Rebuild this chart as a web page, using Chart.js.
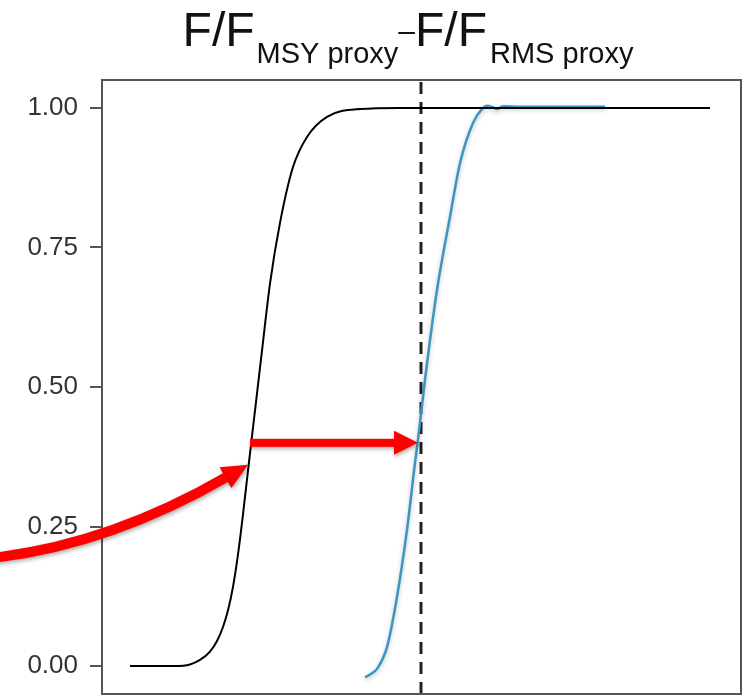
<!DOCTYPE html>
<html>
<head>
<meta charset="utf-8">
<script src="https://cdn.jsdelivr.net/npm/chart.js@4.4.0/dist/chart.umd.min.js"></script>
<style>
  html, body { margin: 0; padding: 0; background: #fff; }
</style>
</head>
<body>
<canvas id="chart" width="742" height="696"></canvas>
<script>
// cumulative curves, x in arbitrary F units (no x labels drawn)
const msyX = [2.8, 7.3, 8.8, 9.8, 10.8, 11.5, 12.1, 12.6, 13.1, 13.6, 14.1, 14.6, 15.4, 16.0, 16.8, 17.8, 19.1, 20.5, 22.5, 25.8, 29.8, 60.8];
const msyY = [0, 0, 0.003, 0.011, 0.026, 0.045, 0.07, 0.1, 0.142, 0.2, 0.272, 0.35, 0.473, 0.565, 0.685, 0.794, 0.894, 0.948, 0.984, 0.998, 1.0, 1.0];

const rmsX = [26.3, 26.8, 27.5, 28.5, 29.5, 30.5, 31.3, 31.6, 32.3, 33.5, 34.8, 35.8, 37.1, 38.1, 38.5, 39.1, 39.5, 40.1, 41.8, 50.3];
const rmsY = [-0.02, -0.015, -0.005, 0.034, 0.124, 0.244, 0.364, 0.405, 0.513, 0.674, 0.805, 0.901, 0.973, 1.0, 1.004, 1.001, 0.998, 1.003, 1.002, 1.002];

const yTicks = [0, 0.25, 0.5, 0.75, 1.0];
const refX = 31.9;

// arrow annotations (data coordinates)
const shiftY = 0.4;
const shiftFrom = 14.8;
const shiftTo = 31.6;
const curveStart = [-10.7, 0.1944];
const curveCtrl = [0.85, 0.2186];
const curveTip = [14.6, 0.3609];

const toPts = (xs, ys) => xs.map((x, i) => ({ x: x, y: ys[i] }));

const FONT = '"Liberation Sans", Arial, Helvetica, sans-serif';

function drawTitle(ctx) {
  const parts = [
    { t: 'F/F', size: 48, base: 46 },
    { t: 'MSY proxy', size: 29, base: 63, gap: 2 },
    { t: '\u2013', size: 30, base: 41 },
    { t: 'F/F', size: 48, base: 46 },
    { t: 'RMS proxy', size: 29, base: 63, gap: 3 }
  ];
  let total = 0;
  parts.forEach(p => {
    ctx.font = p.size + 'px ' + FONT;
    p.w = ctx.measureText(p.t).width;
    total += p.w + (p.gap || 0);
  });
  let x = 408 - total / 2;
  ctx.save();
  ctx.fillStyle = '#111';
  ctx.textBaseline = 'alphabetic';
  ctx.textAlign = 'left';
  parts.forEach(p => {
    x += (p.gap || 0);
    ctx.font = p.size + 'px ' + FONT;
    ctx.fillText(p.t, x, p.base);
    x += p.w;
  });
  ctx.restore();
}

function arrowHead(ctx, tx, ty, ux, uy, len, half) {
  const bx = tx - ux * len, by = ty - uy * len;
  ctx.beginPath();
  ctx.moveTo(tx, ty);
  ctx.lineTo(bx - uy * half, by + ux * half);
  ctx.lineTo(bx + uy * half, by - ux * half);
  ctx.closePath();
  ctx.fill();
  return [bx, by];
}

const decor = {
  id: 'decor',
  beforeDatasetDraw(chart, args) {
    if (args.index === 1) {
      const ctx = chart.ctx;
      ctx.save();
      ctx.shadowColor = 'rgba(0,0,0,0.25)';
      ctx.shadowBlur = 4;
      ctx.shadowOffsetY = 2;
    }
  },
  afterDatasetDraw(chart, args) {
    if (args.index === 1) chart.ctx.restore();
  },
  afterDraw(chart) {
    const ctx = chart.ctx;
    const a = chart.chartArea;
    const xs = chart.scales.x, ys = chart.scales.y;
    const px = p => [xs.getPixelForValue(p[0]), ys.getPixelForValue(p[1])];

    drawTitle(ctx);

    // remaining frame sides
    ctx.save();
    ctx.strokeStyle = '#555';
    ctx.lineWidth = 2;
    ctx.beginPath();
    ctx.moveTo(a.left, a.top);
    ctx.lineTo(a.right, a.top);
    ctx.lineTo(a.right, a.bottom);
    ctx.lineTo(a.left, a.bottom);
    ctx.stroke();
    ctx.restore();

    ctx.save();
    ctx.fillStyle = '#ff0000';
    ctx.strokeStyle = '#ff0000';
    ctx.shadowColor = 'rgba(0,0,0,0.35)';
    ctx.shadowBlur = 4;
    ctx.shadowOffsetX = 1;
    ctx.shadowOffsetY = 2;

    // horizontal shift arrow
    const hy = ys.getPixelForValue(shiftY);
    const hx0 = xs.getPixelForValue(shiftFrom);
    const hx1 = xs.getPixelForValue(shiftTo);
    ctx.fillRect(hx0, hy - 4, hx1 - hx0 - 22, 8);
    arrowHead(ctx, hx1, hy, 1, 0, 24, 12);

    // curved pointer arrow
    const p0 = px(curveStart), c = px(curveCtrl), tip = px(curveTip);
    let ux = tip[0] - c[0], uy = tip[1] - c[1];
    const n = Math.hypot(ux, uy);
    ux /= n; uy /= n;
    const base = arrowHead(ctx, tip[0], tip[1], ux, uy, 26, 12);
    ctx.lineWidth = 10;
    ctx.lineCap = 'butt';
    ctx.beginPath();
    ctx.moveTo(p0[0], p0[1]);
    ctx.quadraticCurveTo(c[0], c[1], base[0] + ux * 2, base[1] + uy * 2);
    ctx.stroke();
    ctx.restore();
  }
};

new Chart(document.getElementById('chart'), {
  type: 'line',
  data: {
    datasets: [
      {
        data: toPts(msyX, msyY),
        borderColor: '#000',
        borderWidth: 2,
        cubicInterpolationMode: 'monotone'
      },
      {
        data: toPts(rmsX, rmsY),
        borderColor: '#3a95c2',
        borderWidth: 2.5,
        cubicInterpolationMode: 'monotone'
      },
      {
        data: [{ x: refX, y: -0.05 }, { x: refX, y: 1.05 }],
        borderColor: '#222',
        borderWidth: 3,
        borderDash: [12, 8]
      }
    ]
  },
  options: {
    responsive: false,
    devicePixelRatio: 1,
    animation: false,
    layout: { padding: { top: 80, right: 1, bottom: 2, left: 0 } },
    elements: { point: { radius: 0 } },
    plugins: {
      legend: { display: false },
      tooltip: { enabled: false }
    },
    scales: {
      x: { type: 'linear', min: 0, max: 63.9, display: false },
      y: {
        min: -0.05,
        max: 1.05,
        afterFit(scale) {
          scale.width = 102;
          scale.paddingTop = 0;
          scale.paddingBottom = 0;
        },
        afterBuildTicks(scale) { scale.ticks = yTicks.map(v => ({ value: v })); },
        border: { display: true, color: '#555', width: 2 },
        grid: { drawOnChartArea: false, drawTicks: true, tickLength: 12, color: '#555', lineWidth: 2 },
        ticks: {
          padding: 12,
          color: '#333',
          font: { family: FONT, size: 26 },
          callback: v => v.toFixed(2)
        }
      }
    }
  },
  plugins: [decor]
});
</script>
</body>
</html>
